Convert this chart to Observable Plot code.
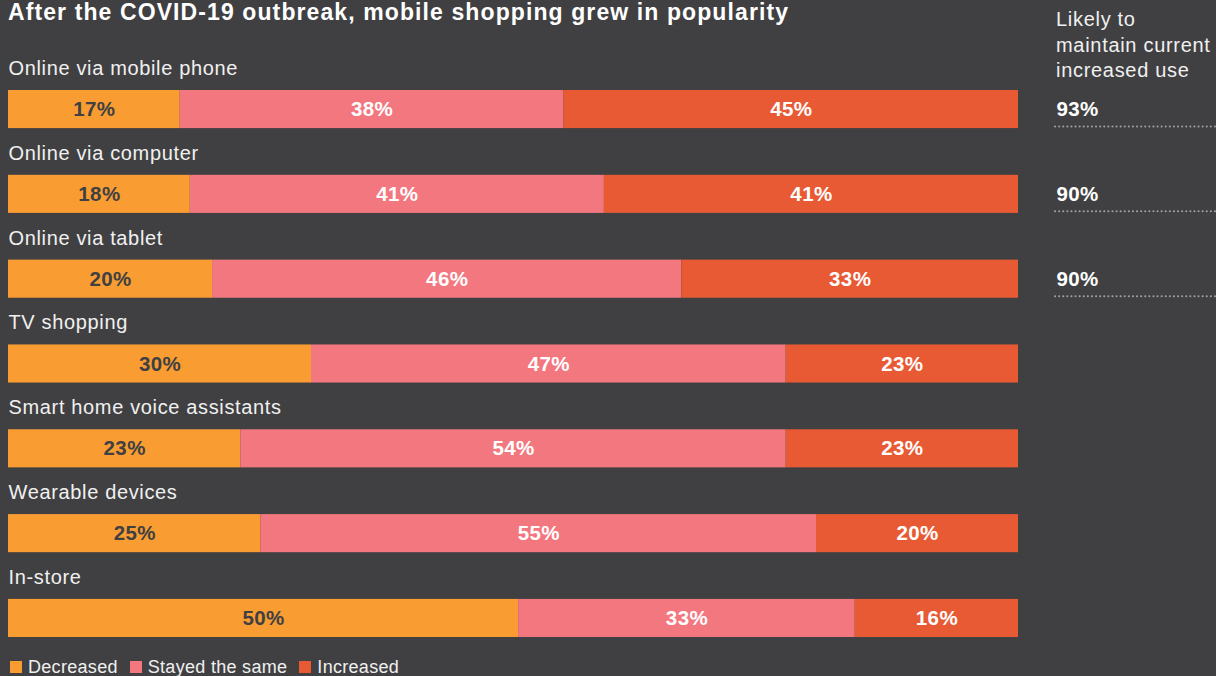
<!DOCTYPE html>
<html>
<head>
<meta charset="utf-8">
<script src="https://cdn.jsdelivr.net/npm/d3@7"></script>
<script src="https://cdn.jsdelivr.net/npm/@observablehq/plot@0.6"></script>
<style>
  html, body { margin: 0; padding: 0; background: #404042; width: 1216px; height: 676px; overflow: hidden; }
  body { position: relative; font-family: "Liberation Sans", Arial, Helvetica, sans-serif; color: #f2f2f2; }
  #title { position: absolute; left: 8px; top: -1px; font-size: 23px; line-height: 26px; letter-spacing: 1.1px; font-weight: bold; color: #ffffff; white-space: nowrap; }
  #header { position: absolute; left: 1056px; top: 7px; font-size: 20px; line-height: 25.5px; letter-spacing: 0.7px; color: #f0f0f0; white-space: nowrap; }
  #charts { position: absolute; left: 0; top: 34px; display: flex; }
  #legend { position: absolute; left: 10px; top: 657px; font-size: 18px; line-height: 20px; letter-spacing: 0.3px; display: flex; align-items: center; color: #f0f0f0; white-space: nowrap; }
  #legend .sw { display: inline-block; width: 12px; height: 12px; margin-right: 6px; }
  #legend .item { display: flex; align-items: center; margin-right: 12px; }
</style>
</head>
<body>
<div id="title">After the COVID-19 outbreak, mobile shopping grew in popularity</div>
<div id="header">Likely to<br>maintain current<br>increased use</div>
<div id="charts"></div>
<div id="legend"></div>
<script>
const categories = ["Online via mobile phone", "Online via computer", "Online via tablet", "TV shopping", "Smart home voice assistants", "Wearable devices", "In-store"];
const decreased = [17, 18, 20, 30, 23, 25, 50];
const stayedSame = [38, 41, 46, 47, 54, 55, 33];
const increased = [45, 41, 33, 23, 23, 20, 16];
const seriesNames = ["Decreased", "Stayed the same", "Increased"];
const seriesColors = ["#F99D33", "#F3777F", "#E85A34"];
const likelyCategories = ["Online via mobile phone", "Online via computer", "Online via tablet"];
const likelyValues = [93, 90, 90];

const seriesValues = [decreased, stayedSame, increased];
const rows = [];
categories.forEach((c, i) => {
  seriesNames.forEach((s, j) => rows.push({category: c, series: s, value: seriesValues[j][i]}));
});
const colorOf = Object.fromEntries(seriesNames.map((s, j) => [s, seriesColors[j]]));
const likelyRows = likelyCategories.map((c, i) => ({category: c, value: likelyValues[i]}));

const font = "'Liberation Sans', Arial, Helvetica, sans-serif";
const yScale = () => ({type: "band", axis: null, domain: categories.slice(), range: [56, 603], paddingInner: 0.551, paddingOuter: 0, round: false, align: 0.5});

const main = Plot.plot({
  width: 1055, height: 618,
  marginLeft: 8, marginRight: 37, marginTop: 0, marginBottom: 0,
  x: {axis: null, domain: [0, 1]},
  y: yScale(),
  style: {background: "transparent", fontFamily: font, overflow: "visible"},
  marks: [
    Plot.barX(rows, Plot.stackX({offset: "normalize", x: "value", y: "category", fill: d => colorOf[d.series]})),
    Plot.text(rows, Plot.stackX({offset: "normalize", x: "value", y: "category",
      text: d => d.value + "%", fill: d => d.series === "Decreased" ? "#404042" : "#ffffff",
      fontWeight: "bold", fontSize: 20.5, style: "letter-spacing:0.4px"})),
    Plot.text(categories, {y: d => d, text: d => d, frameAnchor: "left", textAnchor: "start",
      dy: -41, fill: "#f0f0f0", fontSize: 20})
  ]
});
main.querySelectorAll("text").forEach(t => t.style.letterSpacing = t.getAttribute("font-weight") === "bold" || t.closest("[font-weight=bold]") ? "0.4px" : "0.65px");

const side = Plot.plot({
  width: 161, height: 618,
  marginLeft: 0, marginRight: 0, marginTop: 0, marginBottom: 0,
  x: {axis: null},
  y: yScale(),
  style: {background: "transparent", fontFamily: font, overflow: "visible"},
  marks: [
    Plot.ruleY(likelyRows, {y: "category", dy: 17, stroke: "#a0a0a0", strokeWidth: 2,
      strokeDasharray: "0.1,4", strokeLinecap: "round"}),
    Plot.text(likelyRows, {y: "category", text: d => d.value + "%", frameAnchor: "left",
      textAnchor: "start", dx: 1, fill: "#ffffff", fontWeight: "bold", fontSize: 20.5})
  ]
});
side.querySelectorAll("text").forEach(t => t.style.letterSpacing = "0.4px");

document.getElementById("charts").append(main, side);

const legend = document.getElementById("legend");
seriesNames.forEach((s, j) => {
  const item = document.createElement("span");
  item.className = "item";
  const sw = document.createElement("span");
  sw.className = "sw";
  sw.style.background = seriesColors[j];
  item.append(sw, document.createTextNode(s));
  legend.append(item);
});
</script>
</body>
</html>
